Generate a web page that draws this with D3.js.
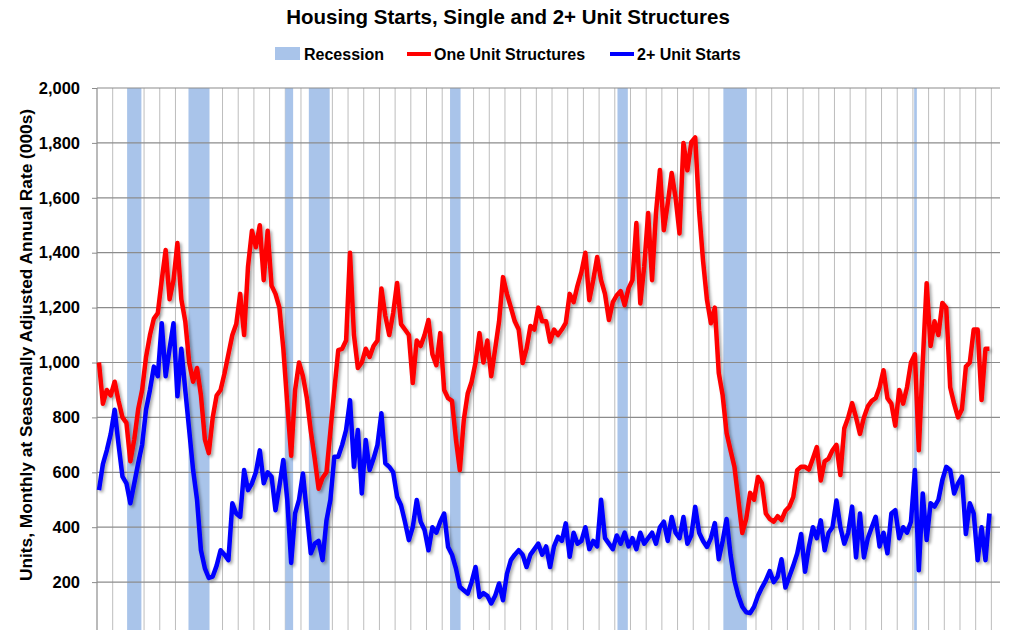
<!DOCTYPE html>
<html><head><meta charset="utf-8">
<script src="https://cdn.jsdelivr.net/npm/d3@7"></script>
<style>body{margin:0;background:#fff;font-family:"Liberation Sans",Arial,sans-serif}</style>
</head><body><svg id="c" width="1020" height="630"></svg>
<script>
const startYear = 1968;
const yTicks = [200,400,600,800,1000,1200,1400,1600,1800,2000];
const recessions = [[1969.92,1970.83],[1973.83,1975.17],[1980.0,1980.5],[1981.5,1982.83],[1990.5,1991.17],[2001.17,2001.83],[2007.92,2009.42],[2020.08,2020.25]];
// quarterly values, 1968Q1 .. 2024Q4 (thousands, SAAR)
const oneUnit = [
1000,850,900,880, 930,860,800,780, 640,720,830,900, 1020,1100,1160,1180,
1300,1410,1230,1300, 1435,1230,1150,1000, 930,980,880,720, 670,800,880,900,
960,1030,1100,1140, 1250,1100,1350,1480, 1420,1500,1300,1480, 1280,1250,1200,1050,
850,660,900,1000, 950,870,750,650, 540,580,600,750, 900,1045,1050,1080,
1400,1100,980,1000, 1050,1020,1060,1080, 1270,1170,1100,1180, 1290,1140,1120,1100,
925,1080,1060,1100, 1155,1030,990,1107, 900,870,860,720, 608,790,887,930,
1000,1107,1000,1080, 950,1050,1150,1311, 1250,1201,1150,1120, 998,1050,1133,1120,
1200,1150,1150,1076, 1120,1100,1120,1144, 1250,1220,1280,1330, 1400,1227,1300,1384,
1300,1250,1155,1220, 1245,1260,1209,1270, 1300,1508,1215,1350, 1545,1300,1545,1701,
1482,1580,1690,1600, 1470,1800,1700,1803, 1820,1552,1370,1228, 1143,1200,962,880,
743,680,620,500, 379,430,525,500, 583,560,450,430, 420,440,426,460,
475,510,608,620, 620,610,650,692, 570,640,650,680, 700,590,760,800,
852,800,740,800, 840,860,870,910, 972,870,850,770, 900,850,910,1000,
1030,680,1000,1289, 1060,1150,1100,1217, 1200,910,850,800, 830,985,1000,1120,
1120,863,1050,1050];
const multiUnit = [
535,630,680,740, 828,700,584,560, 487,560,633,700, 828,900,985,950,
1143,950,1050,1143, 877,1050,900,754, 608,500,316,250, 215,220,260,316,
300,280,487,450, 438,608,535,560, 600,680,560,600, 584,462,550,645,
500,270,450,500, 596,450,305,340, 350,280,425,500, 657,657,700,754,
863,620,754,523, 718,608,650,700, 815,633,620,600, 511,480,420,353,
400,499,420,390, 316,400,380,420, 450,328,300,250, 183,170,158,200,
255,146,160,150, 122,150,195,134, 230,280,300,316, 300,255,300,320,
340,300,330,255, 330,365,350,414, 292,380,340,350, 400,320,350,330,
500,360,340,320, 370,340,380,330, 360,320,380,340, 360,380,340,400,
420,350,437,380, 360,437,340,370, 474,380,350,328, 360,415,283,350,
430,300,206,150, 110,90,87,110, 150,180,206,240, 200,220,283,180,
220,260,304,375, 238,330,400,360, 425,316,380,400, 497,400,340,380,
475,290,450,290, 360,400,438,330, 380,305,450,462, 360,400,380,420,
608,243,523,353, 487,475,500,572, 620,608,523,560, 584,375,487,450,
280,400,280,450];

const svg = d3.select('#c');
const L=97,R=1000,T=88,B=637;
const FF='"Liberation Sans",Arial,sans-serif';
const x = d3.scaleLinear().domain([1968,2025.55]).range([L,R]);
const y = d3.scaleLinear().domain([0,2000]).range([B,T]);
const defs = svg.append('defs');
const f = defs.append('filter').attr('id','sh').attr('x','-5%').attr('y','-5%').attr('width','110%').attr('height','110%');
f.append('feDropShadow').attr('dx',2).attr('dy',2).attr('stdDeviation',1.5).attr('flood-color','#000').attr('flood-opacity',0.35);

svg.append('g').selectAll('line').data(d3.range(1969,2026)).join('line')
 .attr('x1',d=>x(d)).attr('x2',d=>x(d)).attr('y1',T).attr('y2',B).attr('stroke','#bdbdbd').attr('stroke-width',1);
svg.append('g').selectAll('rect').data(recessions).join('rect')
 .attr('x',d=>x(d[0])).attr('width',d=>Math.max(1.5,x(d[1])-x(d[0]))).attr('y',T).attr('height',B-T).attr('fill','#a9c4ea');
svg.append('g').selectAll('line').data(yTicks).join('line')
 .attr('x1',L).attr('x2',R).attr('y1',d=>y(d)).attr('y2',d=>y(d)).attr('stroke','#8c8c8c').attr('stroke-width',1.2);
svg.append('line').attr('x1',L).attr('x2',L).attr('y1',T).attr('y2',B).attr('stroke','#8c8c8c').attr('stroke-width',1.2);
const ya = svg.append('g').attr('transform',`translate(${L},0)`).call(d3.axisLeft(y).tickValues(yTicks).tickSize(5).tickFormat(d3.format(',')));
ya.select('.domain').remove();
ya.selectAll('line').attr('stroke','#8c8c8c');
ya.selectAll('text').attr('font-size',16.5).attr('font-weight','bold').attr('fill','#000').attr('font-family',FF).attr('dx',-9);

const line = d3.line().x((d,i)=>x(startYear+i/4+0.125)).y(d=>y(d));
svg.append('path').datum(oneUnit).attr('d',line).attr('fill','none').attr('stroke','#ff0000').attr('stroke-width',4.5).attr('stroke-linejoin','round').attr('filter','url(#sh)');
svg.append('path').datum(multiUnit).attr('d',line).attr('fill','none').attr('stroke','#0000ff').attr('stroke-width',4.5).attr('stroke-linejoin','round').attr('filter','url(#sh)');

svg.append('text').attr('x',508).attr('y',24).attr('text-anchor','middle').attr('font-size',20.5).attr('font-weight','bold').attr('font-family',FF).text('Housing Starts, Single and 2+ Unit Structures');
svg.append('text').attr('transform','translate(32,345) rotate(-90)').attr('text-anchor','middle').attr('font-size',17.3).attr('font-weight','bold').attr('font-family',FF).text('Units, Monthly at Seasonally Adjusted Annual Rate (000s)');
const lg = svg.append('g').attr('font-size',16).attr('font-weight','bold').attr('font-family',FF);
lg.append('rect').attr('x',275).attr('y',47).attr('width',25).attr('height',13).attr('fill','#a9c4ea');
lg.append('text').attr('x',304).attr('y',60).text('Recession');
lg.append('line').attr('x1',407).attr('x2',431).attr('y1',54).attr('y2',54).attr('stroke','#ff0000').attr('stroke-width',4);
lg.append('text').attr('x',434).attr('y',60).text('One Unit Structures');
lg.append('line').attr('x1',610).attr('x2',634).attr('y1',54).attr('y2',54).attr('stroke','#0000ff').attr('stroke-width',4);
lg.append('text').attr('x',637).attr('y',60).text('2+ Unit Starts');
</script></body></html>
